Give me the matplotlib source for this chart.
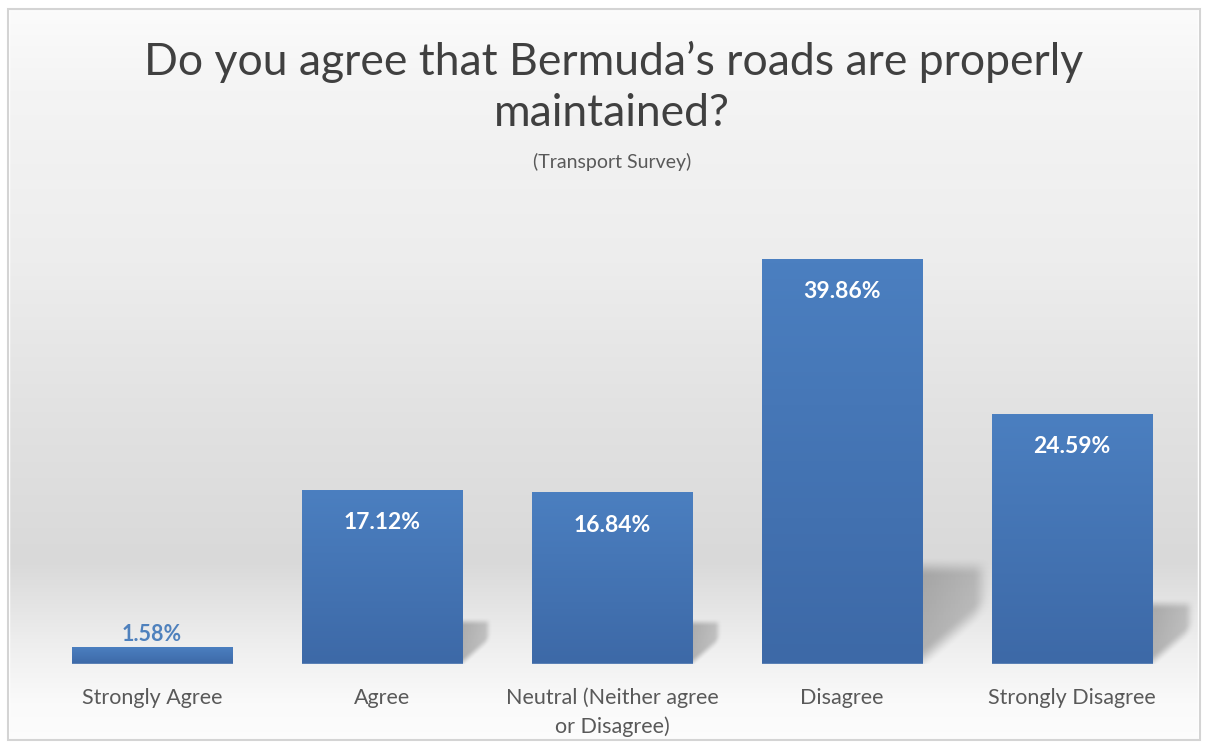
import numpy as np
import matplotlib.pyplot as plt
from matplotlib.colors import LinearSegmentedColormap
from matplotlib.patches import Rectangle

categorias = ['Strongly Agree', 'Agree', 'Neutral (Neither agree\nor Disagree)',
              'Disagree', 'Strongly Disagree']
percentuais = [1.58, 17.12, 16.84, 39.86, 24.59]
rotulos = ['1.58%', '17.12%', '16.84%', '39.86%', '24.59%']

plt.rcParams['font.family'] = ['Lato', 'DejaVu Sans']

fig = plt.figure(figsize=(12.07, 7.49), dpi=100)

# fundo com degradê cinza (como no gráfico original)
bg = fig.add_axes([0, 0, 1, 1], zorder=-10)
stops = [(0.0, '#fcfcfc'), (0.12, '#f4f4f4'), (0.35, '#ededed'), (0.55, '#e2e2e2'),
         (0.75, '#d9d9d9'), (0.86, '#eeeeee'), (0.94, '#fafafa'), (1.0, '#fdfdfd')]
cmap_bg = LinearSegmentedColormap.from_list('bg', stops)
bg.imshow(np.linspace(0, 1, 256).reshape(-1, 1), cmap=cmap_bg, aspect='auto',
          extent=(0, 1, 0, 1), origin='upper')
bg.add_patch(Rectangle((0, 0), 1, 1, facecolor='none', edgecolor='white', lw=14,
                       transform=bg.transAxes))
bg.add_patch(Rectangle((8 / 1207, 9 / 749), 1192 / 1207, 731 / 749, facecolor='none',
                       edgecolor='#d4d4d4', lw=1.5, transform=bg.transAxes))
bg.set_xlim(0, 1)
bg.set_ylim(0, 1)
bg.axis('off')

ax = fig.add_axes([37 / 1207, 85 / 749, 1150 / 1207, 457 / 749])
ax.set_facecolor('none')

x = np.arange(len(categorias))
largura = 0.70
cmap_barra = LinearSegmentedColormap.from_list('barra', ['#4b7fc0', '#3d69a7'])


def suave(t):
    t = np.clip(t, 0, 1)
    return t * t * (3 - 2 * t)


for xi, h in zip(x, percentuais):
    # sombra diagonal e esfumaçada à direita da barra
    xr = xi + largura / 2
    d = 0.0071 * h
    hs = 0.24 * h
    if h > 5:
        u = np.linspace(0, 1.25, 120)
        v = np.linspace(0, 1.2, 120)
        U, V = np.meshgrid(u, v)
        linha = 0.58 * U
        m = suave((1 - V) / 0.2 + 0.5) * suave((V - linha) / 0.25 + 0.3) * suave((1.05 - U) / 0.3)
        m = m * (1 - 0.35 * np.clip(U, 0, 1))
        rgba = np.zeros(m.shape + (4,))
        rgba[..., :3] = 0.35
        rgba[..., 3] = 0.42 * m
        ax.imshow(rgba, extent=(xr, xr + 1.25 * d, 0, 1.2 * hs), origin='lower',
                  aspect='auto', zorder=1, clip_on=False, interpolation='bilinear')
    # barra com degradê vertical
    ax.imshow(np.linspace(0, 1, 100).reshape(-1, 1), cmap=cmap_barra, aspect='auto',
              extent=(xi - largura / 2, xi + largura / 2, 0, h), origin='upper', zorder=2)
    ax.plot([xi - largura / 2, xi + largura / 2], [0, 0], color='#dbe5f1', lw=1, zorder=3)

for xi, h, txt in zip(x, percentuais, rotulos):
    if h < 5:
        ax.text(xi, h + 0.3, txt, ha='center', va='bottom', fontsize=15.5,
                fontweight='bold', color='#4f81bd', zorder=4)
    else:
        ax.text(xi, h - 3.2, txt, ha='center', va='center', fontsize=16.5,
                fontweight='bold', color='white', zorder=4)

ax.set_xlim(-0.5, len(categorias) - 0.5)
ax.set_ylim(0, 45)
ax.set_xticks(x)
ax.set_xticklabels(categorias, fontsize=15.5, color='#595959', linespacing=1.5)
ax.tick_params(axis='x', length=0, pad=17)
ax.set_yticks([])
for sp in ax.spines.values():
    sp.set_visible(False)

fig.text(0.508, 1 - 62 / 749, 'Do you agree that Bermuda’s roads are properly',
         ha='center', va='center', fontsize=32, color='#404040')
fig.text(0.507, 1 - 114 / 749, 'maintained?', ha='center', va='center',
         fontsize=32, color='#404040')
fig.text(0.507, 1 - 162 / 749, '(Transport Survey)', ha='center', va='center',
         fontsize=14, color='#595959')

fig.savefig('out.png', dpi=100)
